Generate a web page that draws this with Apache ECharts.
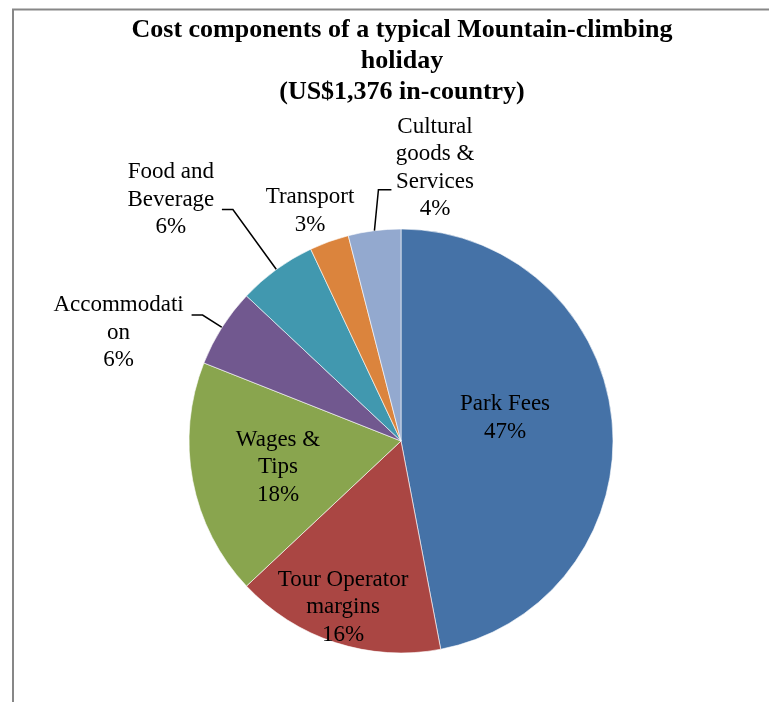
<!DOCTYPE html>
<html>
<head>
<meta charset="utf-8">
<script src="https://cdn.jsdelivr.net/npm/echarts@6/dist/echarts.min.js"></script>
<style>
  html, body { margin: 0; padding: 0; background: #fff; }
  #chart { width: 769px; height: 702px; }
</style>
</head>
<body>
<div id="chart"></div>
<script>
// data (percent of the US$1,376)
const categories = ['Park Fees', 'Tour Operator margins', 'Wages & Tips', 'Accommodation', 'Food and Beverage', 'Transport', 'Cultural goods & Services'];
const shares = [47, 16, 18, 6, 6, 3, 4];
// label text wrapped the way the original shows it
const labelText = [
  ['Park Fees'],
  ['Tour Operator', 'margins'],
  ['Wages &', 'Tips'],
  ['Accommodati', 'on'],
  ['Food and', 'Beverage'],
  ['Transport'],
  ['Cultural', 'goods &', 'Services']
];

const colors = ['#4572A7', '#AA4643', '#89A54E', '#71588F', '#4198AF', '#DB843D', '#93A9CF'];
const serif = '"Liberation Serif", "Times New Roman", serif';
const CX = 401, CY = 441, R = 212;

// labels that are placed by hand (centre of text block)
const labelAt = {
  'Park Fees': [505, 418],
  'Tour Operator margins': [343, 607],
  'Wages & Tips': [278, 467],
  'Transport': [310, 211],
  'Cultural goods & Services': [435, 168]
};
// labels that keep the pie's own leader line
const leader = {
  'Accommodation': { length: 23, length2: 11, width: 136, padding: [35, 0, 0, 0] },
  'Food and Beverage': { length: 74, length2: 11, width: 92, padding: [0, 0, 20, 0] }
};

function midAngle(idx) {
  const total = shares.reduce((a, b) => a + b, 0);
  let acc = 0;
  for (let i = 0; i < idx; i++) acc += shares[i];
  return (acc + shares[idx] / 2) / total * Math.PI * 2;
}

const data = categories.map(function (name, i) {
  const item = { name: name, value: shares[i], itemStyle: { color: colors[i] } };
  const lines = labelText[i].concat([shares[i] + '%']);
  const ld = leader[name];
  if (ld) {
    item.label = {
      formatter: lines.map(s => '{c|' + s + '}').join('\n'),
      padding: ld.padding,
      rich: { c: { width: ld.width, align: 'center', fontFamily: serif, fontSize: 23, lineHeight: 27.5, color: '#000' } }
    };
    item.labelLine = { show: true, length: ld.length, length2: ld.length2 };
  } else {
    item.label = { formatter: lines.join('\n') };
    item.labelLine = { show: false };
  }
  return item;
});

// leader of the Cultural label goes up and right, drawn from the slice's mid angle
const ci = categories.indexOf('Cultural goods & Services');
const a = midAngle(ci);
const p0 = [CX + R * Math.sin(a), CY - R * Math.cos(a)];
const p1 = [p0[0] + 4, p0[1] - 41];
const p2 = [p1[0] + 13, p1[1]];

const chart = echarts.init(document.getElementById('chart'));
chart.setOption({
  backgroundColor: '#fff',
  animation: false,
  title: {
    text: 'Cost components of a typical Mountain-climbing\nholiday\n(US$1,376 in-country)',
    left: 402,
    top: 15,
    padding: 0,
    textAlign: 'center',
    textStyle: { fontFamily: serif, fontSize: 26, fontWeight: 'bold', lineHeight: 31, color: '#000' }
  },
  graphic: [
    {
      type: 'rect', silent: true,
      shape: { x: 13, y: 9.5, width: 800, height: 720 },
      style: { fill: null, stroke: '#878787', lineWidth: 2 }
    },
    {
      type: 'polyline', silent: true, z: 10,
      shape: { points: [p0, p1, p2] },
      style: { fill: null, stroke: '#000', lineWidth: 1.5 }
    }
  ],
  series: [
    {
      type: 'pie',
      center: [CX, CY],
      radius: R,
      startAngle: 90,
      clockwise: true,
      avoidLabelOverlap: false,
      silent: true,
      itemStyle: { borderColor: '#fff', borderWidth: 0.6 },
      label: {
        show: true,
        position: 'outside',
        color: '#000',
        fontFamily: serif,
        fontSize: 23,
        lineHeight: 27.5,
        distanceToLabelLine: 5
      },
      labelLine: { lineStyle: { color: '#000', width: 1.5 } },
      labelLayout: function (p) {
        const pos = labelAt[categories[p.dataIndex]];
        if (!pos) return {};
        return { x: pos[0], y: pos[1], align: 'center', verticalAlign: 'middle' };
      },
      data: data
    }
  ]
});
</script>
</body>
</html>
